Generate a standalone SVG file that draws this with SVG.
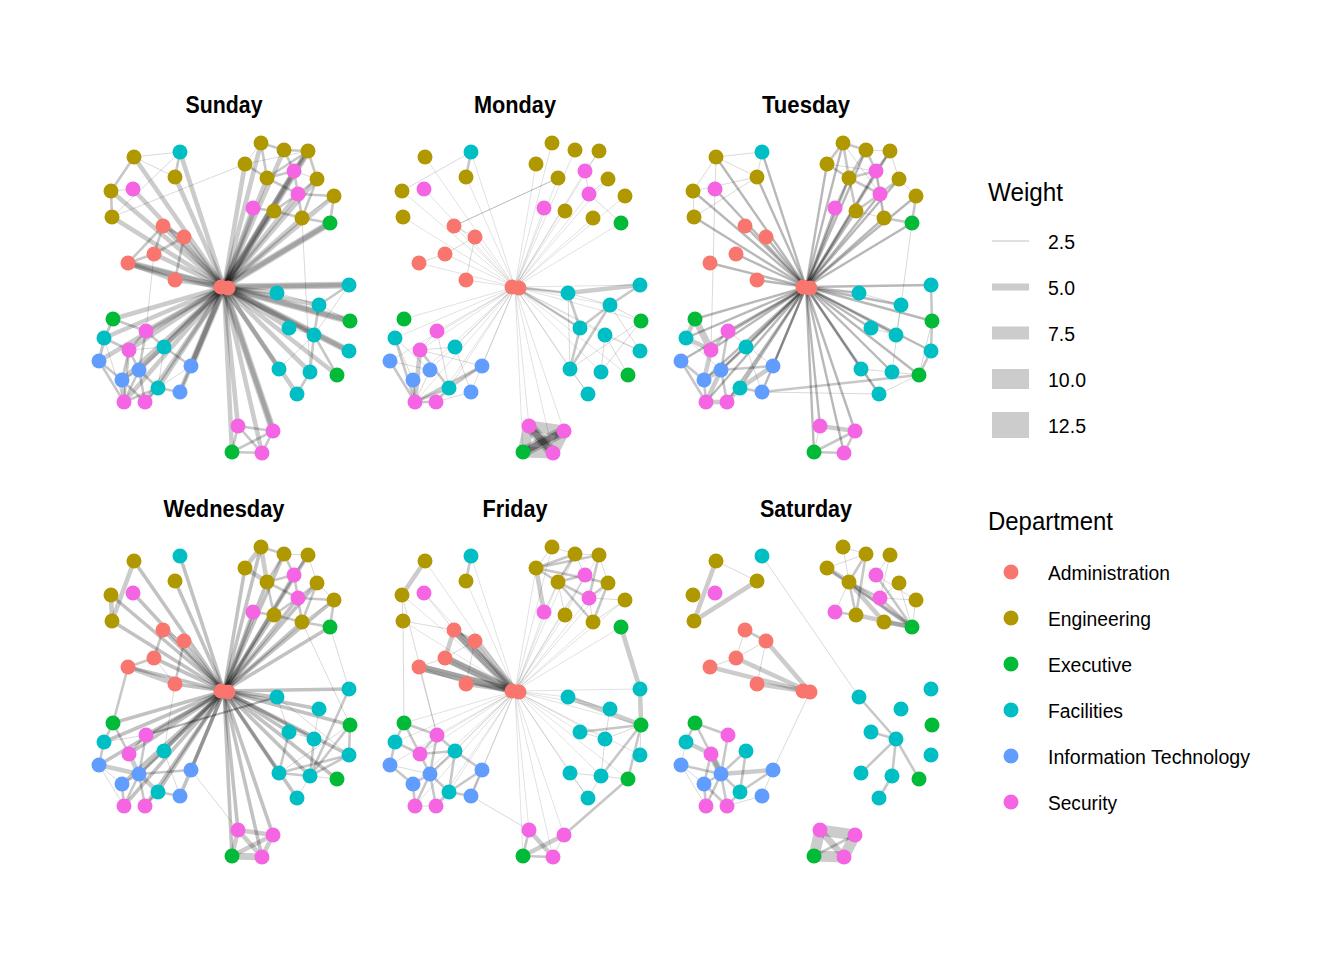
<svg xmlns="http://www.w3.org/2000/svg" xmlns:xlink="http://www.w3.org/1999/xlink" width="1344" height="960" viewBox="0 0 1344 960">
<style>
.e{fill:none;stroke:#000;stroke-linecap:butt}
.t path{stroke-width:.9;stroke-opacity:.17}
.m path{stroke-width:2.6;stroke-opacity:.22}
.d path{stroke-width:2.2;stroke-opacity:.3}
.k path{stroke-width:4.6;stroke-opacity:.2}
.h path{stroke-width:7;stroke-opacity:.2}
.w path{stroke-width:11;stroke-opacity:.2}
.a{fill:#F8766D}.g{fill:#B09900}.x{fill:#00BA38}.f{fill:#00BFC4}.i{fill:#619CFF}.s{fill:#F564E3}
.ttl{font-family:"Liberation Sans",Arial,sans-serif;font-weight:bold;font-size:23px;text-anchor:middle;fill:#000}
.lg{font-family:"Liberation Sans",Arial,sans-serif;font-size:20px;fill:#000}
.lt{font-family:"Liberation Sans",Arial,sans-serif;font-size:25px;fill:#000}
.key{fill:#cccccc}
</style>
<defs>
<g id="star"><path d="M515 287 425 157"/><path d="M515 287 471 152"/><path d="M515 287 466 177"/><path d="M515 287 424 189"/><path d="M515 287 402 191"/><path d="M515 287 403 217"/><path d="M515 287 454 226"/><path d="M515 287 475 237"/><path d="M515 287 445 254"/><path d="M515 287 419 263"/><path d="M515 287 466 280"/><path d="M515 287 552 143"/><path d="M515 287 575 150"/><path d="M515 287 599 151"/><path d="M515 287 536 164"/><path d="M515 287 558 178"/><path d="M515 287 608 179"/><path d="M515 287 625 196"/><path d="M515 287 565 211"/><path d="M515 287 593 218"/><path d="M515 287 585 171"/><path d="M515 287 589 194"/><path d="M515 287 544 208"/><path d="M515 287 621 223"/><path d="M515 287 568 293"/><path d="M515 287 640 285"/><path d="M515 287 610 305"/><path d="M515 287 580 328"/><path d="M515 287 605 335"/><path d="M515 287 640 351"/><path d="M515 287 570 369"/><path d="M515 287 601 372"/><path d="M515 287 588 394"/><path d="M515 287 641 321"/><path d="M515 287 628 375"/><path d="M515 287 529 426"/><path d="M515 287 564 431"/><path d="M515 287 553 453"/><path d="M515 287 523 452"/><path d="M515 287 404 319"/><path d="M515 287 395 338"/><path d="M515 287 437 331"/><path d="M515 287 455 347"/><path d="M515 287 420 350"/><path d="M515 287 390 361"/><path d="M515 287 430 370"/><path d="M515 287 482 366"/><path d="M515 287 413 380"/><path d="M515 287 449 388"/><path d="M515 287 471 392"/><path d="M515 287 415 402"/><path d="M515 287 436 402"/></g>
</defs>
<rect width="1344" height="960" fill="#fff"/>

<!-- SUNDAY -->
<g id="panel-sunday" transform="translate(-291,0)">
<text class="ttl" x="515" y="113" textLength="77" lengthAdjust="spacingAndGlyphs">Sunday</text>
<g id="sunday-connectors" class="e">
<use xlink:href="#star" href="#star" fill="none" stroke="#000" stroke-width="4.6" stroke-opacity="0.2"/>
<g class="h"><path d="M515 287 640 285"/><path d="M515 287 641 321"/><path d="M515 287 640 351"/><path d="M515 287 564 431"/><path d="M515 287 599 151"/><path d="M515 287 621 223"/><path d="M515 287 482 366"/><path d="M512 287 419 263"/></g>
<g class="k"><path d="M419 263 466 280"/><path d="M413 380 415 402"/></g>
<g class="m"><path d="M419 263 445 254"/><path d="M419 263 454 226"/><path d="M445 254 454 226"/><path d="M454 226 475 237"/><path d="M475 237 466 280"/><path d="M445 254 475 237"/><path d="M425 157 402 191"/><path d="M402 191 403 217"/><path d="M471 152 466 177"/>
<path d="M552 143 575 150"/><path d="M575 150 599 151"/><path d="M599 151 608 179"/><path d="M552 143 558 178"/><path d="M575 150 585 171"/><path d="M599 151 585 171"/><path d="M558 178 585 171"/><path d="M536 164 558 178"/><path d="M558 178 589 194"/><path d="M585 171 589 194"/><path d="M608 179 589 194"/><path d="M589 194 625 196"/><path d="M589 194 593 218"/><path d="M565 211 589 194"/><path d="M593 218 621 223"/><path d="M625 196 621 223"/><path d="M544 208 565 211"/><path d="M565 211 593 218"/><path d="M599 151 558 178"/><path d="M608 179 593 218"/>
<path d="M640 285 610 305"/><path d="M610 305 605 335"/><path d="M605 335 601 372"/><path d="M601 372 588 394"/><path d="M605 335 628 375"/>
<path d="M529 426 564 431"/><path d="M529 426 553 453"/><path d="M523 452 564 431"/><path d="M523 452 553 453"/><path d="M564 431 553 453"/><path d="M529 426 523 452"/>
<path d="M404 319 395 338"/><path d="M404 319 437 331"/><path d="M395 338 420 350"/><path d="M395 338 390 361"/><path d="M437 331 420 350"/><path d="M437 331 455 347"/><path d="M420 350 430 370"/><path d="M420 350 413 380"/><path d="M390 361 413 380"/><path d="M430 370 413 380"/><path d="M430 370 449 388"/><path d="M430 370 415 402"/><path d="M430 370 436 402"/><path d="M413 380 436 402"/><path d="M449 388 415 402"/><path d="M449 388 436 402"/><path d="M449 388 471 392"/><path d="M455 347 482 366"/><path d="M482 366 471 392"/><path d="M455 347 430 370"/><path d="M437 331 430 370"/><path d="M390 361 415 402"/><path d="M420 350 415 402"/></g>
<g class="t"><path d="M425 157 471 152"/><path d="M425 157 466 177"/><path d="M402 191 424 189"/><path d="M403 217 471 152"/><path d="M536 164 403 217"/><path d="M445 254 437 331"/><path d="M593 218 601 372"/><path d="M536 164 599 151"/><path d="M552 143 536 164"/><path d="M625 196 593 218"/><path d="M585 171 608 179"/><path d="M640 285 605 335"/><path d="M605 335 580 328"/><path d="M568 293 610 305"/><path d="M610 305 641 321"/><path d="M570 369 605 335"/><path d="M404 319 390 361"/><path d="M420 350 455 347"/><path d="M395 338 415 402"/><path d="M455 347 449 388"/><path d="M482 366 449 388"/></g>
</g>
<g id="sunday-nodes">
<g id="sun-A1"><circle class="a" cx="454" cy="226" r="7.5"/></g><g id="sun-A2"><circle class="a" cx="475" cy="237" r="7.5"/></g><g id="sun-A3"><circle class="a" cx="445" cy="254" r="7.5"/></g><g id="sun-A4"><circle class="a" cx="419" cy="263" r="7.5"/></g><g id="sun-A5"><circle class="a" cx="466" cy="280" r="7.5"/></g><g id="sun-A6"><circle class="a" cx="512" cy="287" r="7.5"/></g><g id="sun-A7"><circle class="a" cx="519" cy="288" r="7.5"/></g>
<g id="sun-E1"><circle class="g" cx="425" cy="157" r="7.5"/></g><g id="sun-E2"><circle class="g" cx="466" cy="177" r="7.5"/></g><g id="sun-E3"><circle class="g" cx="402" cy="191" r="7.5"/></g><g id="sun-E4"><circle class="g" cx="403" cy="217" r="7.5"/></g><g id="sun-E5"><circle class="g" cx="552" cy="143" r="7.5"/></g><g id="sun-E6"><circle class="g" cx="575" cy="150" r="7.5"/></g><g id="sun-E7"><circle class="g" cx="599" cy="151" r="7.5"/></g><g id="sun-E8"><circle class="g" cx="536" cy="164" r="7.5"/></g><g id="sun-E9"><circle class="g" cx="558" cy="178" r="7.5"/></g><g id="sun-E10"><circle class="g" cx="608" cy="179" r="7.5"/></g><g id="sun-E11"><circle class="g" cx="625" cy="196" r="7.5"/></g><g id="sun-E12"><circle class="g" cx="565" cy="211" r="7.5"/></g><g id="sun-E13"><circle class="g" cx="593" cy="218" r="7.5"/></g>
<g id="sun-X1"><circle class="x" cx="621" cy="223" r="7.5"/></g><g id="sun-X2"><circle class="x" cx="641" cy="321" r="7.5"/></g><g id="sun-X3"><circle class="x" cx="628" cy="375" r="7.5"/></g><g id="sun-X4"><circle class="x" cx="523" cy="452" r="7.5"/></g><g id="sun-X5"><circle class="x" cx="404" cy="319" r="7.5"/></g>
<g id="sun-F1"><circle class="f" cx="471" cy="152" r="7.5"/></g><g id="sun-F2"><circle class="f" cx="568" cy="293" r="7.5"/></g><g id="sun-F3"><circle class="f" cx="640" cy="285" r="7.5"/></g><g id="sun-F4"><circle class="f" cx="610" cy="305" r="7.5"/></g><g id="sun-F5"><circle class="f" cx="580" cy="328" r="7.5"/></g><g id="sun-F6"><circle class="f" cx="605" cy="335" r="7.5"/></g><g id="sun-F7"><circle class="f" cx="640" cy="351" r="7.5"/></g><g id="sun-F8"><circle class="f" cx="570" cy="369" r="7.5"/></g><g id="sun-F9"><circle class="f" cx="601" cy="372" r="7.5"/></g><g id="sun-F10"><circle class="f" cx="588" cy="394" r="7.5"/></g><g id="sun-F11"><circle class="f" cx="395" cy="338" r="7.5"/></g><g id="sun-F12"><circle class="f" cx="455" cy="347" r="7.5"/></g><g id="sun-F13"><circle class="f" cx="449" cy="388" r="7.5"/></g>
<g id="sun-I1"><circle class="i" cx="390" cy="361" r="7.5"/></g><g id="sun-I2"><circle class="i" cx="430" cy="370" r="7.5"/></g><g id="sun-I3"><circle class="i" cx="482" cy="366" r="7.5"/></g><g id="sun-I4"><circle class="i" cx="413" cy="380" r="7.5"/></g><g id="sun-I5"><circle class="i" cx="471" cy="392" r="7.5"/></g>
<g id="sun-S1"><circle class="s" cx="424" cy="189" r="7.5"/></g><g id="sun-S2"><circle class="s" cx="585" cy="171" r="7.5"/></g><g id="sun-S3"><circle class="s" cx="589" cy="194" r="7.5"/></g><g id="sun-S4"><circle class="s" cx="544" cy="208" r="7.5"/></g><g id="sun-S5"><circle class="s" cx="529" cy="426" r="7.5"/></g><g id="sun-S6"><circle class="s" cx="564" cy="431" r="7.5"/></g><g id="sun-S7"><circle class="s" cx="553" cy="453" r="7.5"/></g><g id="sun-S8"><circle class="s" cx="437" cy="331" r="7.5"/></g><g id="sun-S9"><circle class="s" cx="420" cy="350" r="7.5"/></g><g id="sun-S10"><circle class="s" cx="415" cy="402" r="7.5"/></g><g id="sun-S11"><circle class="s" cx="436" cy="402" r="7.5"/></g>
</g>
</g>

<!-- MONDAY -->
<g id="panel-monday">
<text class="ttl" x="515" y="113" textLength="82" lengthAdjust="spacingAndGlyphs">Monday</text>
<g id="monday-connectors" class="e">
<use xlink:href="#star" href="#star" fill="none" stroke="#000" stroke-width="0.8" stroke-opacity="0.15"/>
<g class="w"><path d="M529 426 564 431"/><path d="M529 426 523 452"/><path d="M529 426 553 453"/><path d="M564 431 523 452"/><path d="M564 431 553 453"/><path d="M523 452 553 453"/></g>
<g class="h"><path d="M529 426 553 453"/><path d="M564 431 523 452"/><path d="M529 426 553 453"/><path d="M564 431 523 452"/></g>
<g class="k"><path d="M568 293 640 285"/><path d="M420 350 415 402"/></g>
<g class="m"><path d="M515 287 568 293"/><path d="M515 287 580 328"/><path d="M471 152 466 177"/><path d="M640 285 610 305"/><path d="M610 305 580 328"/><path d="M580 328 570 369"/><path d="M610 305 570 369"/><path d="M568 293 580 328"/><path d="M395 338 415 402"/><path d="M390 361 415 402"/><path d="M482 366 415 402"/><path d="M482 366 449 388"/><path d="M420 350 449 388"/><path d="M413 380 415 402"/><path d="M449 388 415 402"/><path d="M449 388 436 402"/><path d="M415 402 436 402"/></g>
<g class="t"><path d="M402 191 471 152"/><path d="M454 226 475 237"/><path d="M475 237 445 254"/><path d="M445 254 419 263"/><path d="M475 237 466 280"/><path d="M454 226 558 178"/><path d="M454 226 558 178"/><path d="M585 171 589 194"/><path d="M589 194 621 223"/><path d="M599 151 585 171"/><path d="M608 179 589 194"/><path d="M568 293 570 369"/><path d="M568 293 610 305"/><path d="M610 305 640 351"/><path d="M605 335 640 351"/><path d="M605 335 601 372"/><path d="M641 321 601 372"/><path d="M570 369 588 394"/><path d="M570 369 641 321"/><path d="M628 375 605 335"/><path d="M610 305 641 321"/><path d="M390 361 430 370"/><path d="M395 338 430 370"/><path d="M420 350 482 366"/><path d="M437 331 449 388"/><path d="M430 370 415 402"/><path d="M436 402 471 392"/><path d="M455 347 471 392"/><path d="M395 338 413 380"/><path d="M420 350 455 347"/><path d="M437 331 420 350"/></g>
</g>
<g id="monday-nodes">
<g id="mon-A1"><circle class="a" cx="454" cy="226" r="7.5"/></g><g id="mon-A2"><circle class="a" cx="475" cy="237" r="7.5"/></g><g id="mon-A3"><circle class="a" cx="445" cy="254" r="7.5"/></g><g id="mon-A4"><circle class="a" cx="419" cy="263" r="7.5"/></g><g id="mon-A5"><circle class="a" cx="466" cy="280" r="7.5"/></g><g id="mon-A6"><circle class="a" cx="512" cy="287" r="7.5"/></g><g id="mon-A7"><circle class="a" cx="519" cy="288" r="7.5"/></g>
<g id="mon-E1"><circle class="g" cx="425" cy="157" r="7.5"/></g><g id="mon-E2"><circle class="g" cx="466" cy="177" r="7.5"/></g><g id="mon-E3"><circle class="g" cx="402" cy="191" r="7.5"/></g><g id="mon-E4"><circle class="g" cx="403" cy="217" r="7.5"/></g><g id="mon-E5"><circle class="g" cx="552" cy="143" r="7.5"/></g><g id="mon-E6"><circle class="g" cx="575" cy="150" r="7.5"/></g><g id="mon-E7"><circle class="g" cx="599" cy="151" r="7.5"/></g><g id="mon-E8"><circle class="g" cx="536" cy="164" r="7.5"/></g><g id="mon-E9"><circle class="g" cx="558" cy="178" r="7.5"/></g><g id="mon-E10"><circle class="g" cx="608" cy="179" r="7.5"/></g><g id="mon-E11"><circle class="g" cx="625" cy="196" r="7.5"/></g><g id="mon-E12"><circle class="g" cx="565" cy="211" r="7.5"/></g><g id="mon-E13"><circle class="g" cx="593" cy="218" r="7.5"/></g>
<g id="mon-X1"><circle class="x" cx="621" cy="223" r="7.5"/></g><g id="mon-X2"><circle class="x" cx="641" cy="321" r="7.5"/></g><g id="mon-X3"><circle class="x" cx="628" cy="375" r="7.5"/></g><g id="mon-X4"><circle class="x" cx="523" cy="452" r="7.5"/></g><g id="mon-X5"><circle class="x" cx="404" cy="319" r="7.5"/></g>
<g id="mon-F1"><circle class="f" cx="471" cy="152" r="7.5"/></g><g id="mon-F2"><circle class="f" cx="568" cy="293" r="7.5"/></g><g id="mon-F3"><circle class="f" cx="640" cy="285" r="7.5"/></g><g id="mon-F4"><circle class="f" cx="610" cy="305" r="7.5"/></g><g id="mon-F5"><circle class="f" cx="580" cy="328" r="7.5"/></g><g id="mon-F6"><circle class="f" cx="605" cy="335" r="7.5"/></g><g id="mon-F7"><circle class="f" cx="640" cy="351" r="7.5"/></g><g id="mon-F8"><circle class="f" cx="570" cy="369" r="7.5"/></g><g id="mon-F9"><circle class="f" cx="601" cy="372" r="7.5"/></g><g id="mon-F10"><circle class="f" cx="588" cy="394" r="7.5"/></g><g id="mon-F11"><circle class="f" cx="395" cy="338" r="7.5"/></g><g id="mon-F12"><circle class="f" cx="455" cy="347" r="7.5"/></g><g id="mon-F13"><circle class="f" cx="449" cy="388" r="7.5"/></g>
<g id="mon-I1"><circle class="i" cx="390" cy="361" r="7.5"/></g><g id="mon-I2"><circle class="i" cx="430" cy="370" r="7.5"/></g><g id="mon-I3"><circle class="i" cx="482" cy="366" r="7.5"/></g><g id="mon-I4"><circle class="i" cx="413" cy="380" r="7.5"/></g><g id="mon-I5"><circle class="i" cx="471" cy="392" r="7.5"/></g>
<g id="mon-S1"><circle class="s" cx="424" cy="189" r="7.5"/></g><g id="mon-S2"><circle class="s" cx="585" cy="171" r="7.5"/></g><g id="mon-S3"><circle class="s" cx="589" cy="194" r="7.5"/></g><g id="mon-S4"><circle class="s" cx="544" cy="208" r="7.5"/></g><g id="mon-S5"><circle class="s" cx="529" cy="426" r="7.5"/></g><g id="mon-S6"><circle class="s" cx="564" cy="431" r="7.5"/></g><g id="mon-S7"><circle class="s" cx="553" cy="453" r="7.5"/></g><g id="mon-S8"><circle class="s" cx="437" cy="331" r="7.5"/></g><g id="mon-S9"><circle class="s" cx="420" cy="350" r="7.5"/></g><g id="mon-S10"><circle class="s" cx="415" cy="402" r="7.5"/></g><g id="mon-S11"><circle class="s" cx="436" cy="402" r="7.5"/></g>
</g>
</g>

<!-- TUESDAY -->
<g id="panel-tuesday" transform="translate(291,0)">
<text class="ttl" x="515" y="113" textLength="88" lengthAdjust="spacingAndGlyphs">Tuesday</text>
<g id="tuesday-connectors" class="e">
<use xlink:href="#star" href="#star" fill="none" stroke="#000" stroke-width="2.4" stroke-opacity="0.28"/>
<g class="h"><path d="M404 319 420 350"/></g>
<g class="k"><path d="M395 338 420 350"/><path d="M420 350 413 380"/><path d="M430 370 413 380"/><path d="M430 370 415 402"/><path d="M415 402 436 402"/><path d="M436 402 449 388"/><path d="M482 366 449 388"/><path d="M404 319 395 338"/><path d="M529 426 564 431"/></g>
<g class="m"><path d="M640 285 641 321"/><path d="M641 321 640 351"/><path d="M640 351 628 375"/><path d="M471 392 628 375"/><path d="M523 452 564 431"/><path d="M523 452 553 453"/><path d="M564 431 553 453"/>
<path d="M552 143 575 150"/><path d="M552 143 536 164"/><path d="M552 143 558 178"/><path d="M575 150 558 178"/><path d="M575 150 585 171"/><path d="M599 151 585 171"/><path d="M536 164 558 178"/><path d="M558 178 585 171"/><path d="M558 178 589 194"/><path d="M585 171 589 194"/><path d="M558 178 565 211"/><path d="M589 194 565 211"/><path d="M589 194 608 179"/><path d="M589 194 593 218"/><path d="M625 196 621 223"/><path d="M593 218 621 223"/><path d="M544 208 558 178"/>
<path d="M390 361 413 380"/><path d="M449 388 471 392"/><path d="M482 366 430 370"/><path d="M455 347 430 370"/><path d="M437 331 430 370"/><path d="M436 402 430 370"/><path d="M413 380 415 402"/><path d="M390 361 415 402"/><path d="M437 331 420 350"/></g>
<g class="t"><path d="M425 157 471 152"/><path d="M425 157 402 191"/><path d="M425 157 466 177"/><path d="M425 157 424 189"/><path d="M402 191 403 217"/><path d="M471 152 466 177"/><path d="M424 189 420 350"/><path d="M402 191 466 177"/><path d="M403 217 466 177"/>
<path d="M575 150 599 151"/><path d="M565 211 593 218"/><path d="M599 151 608 179"/><path d="M585 171 593 218"/><path d="M608 179 625 196"/><path d="M536 164 585 171"/><path d="M552 143 589 194"/>
<path d="M641 321 628 375"/><path d="M570 369 601 372"/><path d="M601 372 628 375"/><path d="M588 394 628 375"/><path d="M588 394 471 392"/><path d="M621 223 601 372"/><path d="M568 293 610 305"/><path d="M610 305 605 335"/><path d="M580 328 605 335"/><path d="M570 369 588 394"/><path d="M529 426 523 452"/><path d="M395 338 430 370"/><path d="M455 347 471 392"/><path d="M437 331 482 366"/></g>
</g>
<g id="tuesday-nodes">
<g id="tue-A1"><circle class="a" cx="454" cy="226" r="7.5"/></g><g id="tue-A2"><circle class="a" cx="475" cy="237" r="7.5"/></g><g id="tue-A3"><circle class="a" cx="445" cy="254" r="7.5"/></g><g id="tue-A4"><circle class="a" cx="419" cy="263" r="7.5"/></g><g id="tue-A5"><circle class="a" cx="466" cy="280" r="7.5"/></g><g id="tue-A6"><circle class="a" cx="512" cy="287" r="7.5"/></g><g id="tue-A7"><circle class="a" cx="519" cy="288" r="7.5"/></g>
<g id="tue-E1"><circle class="g" cx="425" cy="157" r="7.5"/></g><g id="tue-E2"><circle class="g" cx="466" cy="177" r="7.5"/></g><g id="tue-E3"><circle class="g" cx="402" cy="191" r="7.5"/></g><g id="tue-E4"><circle class="g" cx="403" cy="217" r="7.5"/></g><g id="tue-E5"><circle class="g" cx="552" cy="143" r="7.5"/></g><g id="tue-E6"><circle class="g" cx="575" cy="150" r="7.5"/></g><g id="tue-E7"><circle class="g" cx="599" cy="151" r="7.5"/></g><g id="tue-E8"><circle class="g" cx="536" cy="164" r="7.5"/></g><g id="tue-E9"><circle class="g" cx="558" cy="178" r="7.5"/></g><g id="tue-E10"><circle class="g" cx="608" cy="179" r="7.5"/></g><g id="tue-E11"><circle class="g" cx="625" cy="196" r="7.5"/></g><g id="tue-E12"><circle class="g" cx="565" cy="211" r="7.5"/></g><g id="tue-E13"><circle class="g" cx="593" cy="218" r="7.5"/></g>
<g id="tue-X1"><circle class="x" cx="621" cy="223" r="7.5"/></g><g id="tue-X2"><circle class="x" cx="641" cy="321" r="7.5"/></g><g id="tue-X3"><circle class="x" cx="628" cy="375" r="7.5"/></g><g id="tue-X4"><circle class="x" cx="523" cy="452" r="7.5"/></g><g id="tue-X5"><circle class="x" cx="404" cy="319" r="7.5"/></g>
<g id="tue-F1"><circle class="f" cx="471" cy="152" r="7.5"/></g><g id="tue-F2"><circle class="f" cx="568" cy="293" r="7.5"/></g><g id="tue-F3"><circle class="f" cx="640" cy="285" r="7.5"/></g><g id="tue-F4"><circle class="f" cx="610" cy="305" r="7.5"/></g><g id="tue-F5"><circle class="f" cx="580" cy="328" r="7.5"/></g><g id="tue-F6"><circle class="f" cx="605" cy="335" r="7.5"/></g><g id="tue-F7"><circle class="f" cx="640" cy="351" r="7.5"/></g><g id="tue-F8"><circle class="f" cx="570" cy="369" r="7.5"/></g><g id="tue-F9"><circle class="f" cx="601" cy="372" r="7.5"/></g><g id="tue-F10"><circle class="f" cx="588" cy="394" r="7.5"/></g><g id="tue-F11"><circle class="f" cx="395" cy="338" r="7.5"/></g><g id="tue-F12"><circle class="f" cx="455" cy="347" r="7.5"/></g><g id="tue-F13"><circle class="f" cx="449" cy="388" r="7.5"/></g>
<g id="tue-I1"><circle class="i" cx="390" cy="361" r="7.5"/></g><g id="tue-I2"><circle class="i" cx="430" cy="370" r="7.5"/></g><g id="tue-I3"><circle class="i" cx="482" cy="366" r="7.5"/></g><g id="tue-I4"><circle class="i" cx="413" cy="380" r="7.5"/></g><g id="tue-I5"><circle class="i" cx="471" cy="392" r="7.5"/></g>
<g id="tue-S1"><circle class="s" cx="424" cy="189" r="7.5"/></g><g id="tue-S2"><circle class="s" cx="585" cy="171" r="7.5"/></g><g id="tue-S3"><circle class="s" cx="589" cy="194" r="7.5"/></g><g id="tue-S4"><circle class="s" cx="544" cy="208" r="7.5"/></g><g id="tue-S5"><circle class="s" cx="529" cy="426" r="7.5"/></g><g id="tue-S6"><circle class="s" cx="564" cy="431" r="7.5"/></g><g id="tue-S7"><circle class="s" cx="553" cy="453" r="7.5"/></g><g id="tue-S8"><circle class="s" cx="437" cy="331" r="7.5"/></g><g id="tue-S9"><circle class="s" cx="420" cy="350" r="7.5"/></g><g id="tue-S10"><circle class="s" cx="415" cy="402" r="7.5"/></g><g id="tue-S11"><circle class="s" cx="436" cy="402" r="7.5"/></g>
</g>
</g>

<!-- WEDNESDAY -->
<g id="panel-wednesday" transform="translate(-291,404)">
<text class="ttl" x="515" y="113" textLength="121" lengthAdjust="spacingAndGlyphs">Wednesday</text>
<g id="wednesday-connectors" class="e">
<use xlink:href="#star" href="#star" fill="none" stroke="#000" stroke-width="3.6" stroke-opacity="0.24"/>
<g class="h"><path d="M523 452 553 453"/></g>
<g class="k"><path d="M425 157 403 217"/><path d="M402 191 403 217"/><path d="M419 263 466 280"/><path d="M552 143 536 164"/><path d="M536 164 558 178"/><path d="M552 143 558 178"/><path d="M529 426 564 431"/><path d="M529 426 553 453"/><path d="M529 426 523 452"/><path d="M564 431 553 453"/><path d="M523 452 564 431"/><path d="M390 361 430 370"/><path d="M420 350 430 370"/><path d="M430 370 449 388"/></g>
<g class="d"><path d="M568 293 437 331"/></g>
<g class="m"><path d="M419 263 404 319"/><path d="M454 226 445 254"/><path d="M445 254 419 263"/><path d="M475 237 466 280"/>
<path d="M552 143 575 150"/><path d="M575 150 558 178"/><path d="M575 150 585 171"/><path d="M599 151 585 171"/><path d="M558 178 585 171"/><path d="M558 178 589 194"/><path d="M585 171 589 194"/><path d="M589 194 608 179"/><path d="M589 194 625 196"/><path d="M589 194 593 218"/><path d="M565 211 589 194"/><path d="M558 178 565 211"/><path d="M565 211 593 218"/><path d="M593 218 621 223"/><path d="M625 196 621 223"/><path d="M544 208 565 211"/><path d="M608 179 593 218"/>
<path d="M640 285 601 372"/><path d="M641 321 601 372"/><path d="M640 351 601 372"/><path d="M640 351 570 369"/><path d="M580 328 570 369"/><path d="M605 335 601 372"/><path d="M641 321 640 351"/><path d="M570 369 601 372"/>
<path d="M404 319 395 338"/><path d="M404 319 420 350"/><path d="M395 338 390 361"/><path d="M437 331 420 350"/><path d="M437 331 430 370"/><path d="M455 347 430 370"/><path d="M430 370 413 380"/><path d="M430 370 415 402"/><path d="M430 370 436 402"/><path d="M449 388 436 402"/><path d="M471 392 449 388"/><path d="M482 366 430 370"/><path d="M413 380 415 402"/></g>
<g class="t"><path d="M454 226 475 237"/><path d="M445 254 466 280"/><path d="M466 280 455 347"/><path d="M482 366 529 426"/><path d="M621 223 640 285"/><path d="M593 218 641 321"/><path d="M599 151 608 179"/><path d="M575 150 599 151"/><path d="M608 179 625 196"/><path d="M625 196 593 218"/><path d="M641 321 570 369"/><path d="M580 328 605 335"/><path d="M601 372 588 394"/><path d="M628 375 601 372"/><path d="M568 293 580 328"/><path d="M568 293 640 351"/><path d="M610 305 605 335"/><path d="M395 338 437 331"/><path d="M390 361 413 380"/><path d="M455 347 471 392"/><path d="M390 361 415 402"/></g>
</g>
<g id="wednesday-nodes">
<g id="wed-A1"><circle class="a" cx="454" cy="226" r="7.5"/></g><g id="wed-A2"><circle class="a" cx="475" cy="237" r="7.5"/></g><g id="wed-A3"><circle class="a" cx="445" cy="254" r="7.5"/></g><g id="wed-A4"><circle class="a" cx="419" cy="263" r="7.5"/></g><g id="wed-A5"><circle class="a" cx="466" cy="280" r="7.5"/></g><g id="wed-A6"><circle class="a" cx="512" cy="287" r="7.5"/></g><g id="wed-A7"><circle class="a" cx="519" cy="288" r="7.5"/></g>
<g id="wed-E1"><circle class="g" cx="425" cy="157" r="7.5"/></g><g id="wed-E2"><circle class="g" cx="466" cy="177" r="7.5"/></g><g id="wed-E3"><circle class="g" cx="402" cy="191" r="7.5"/></g><g id="wed-E4"><circle class="g" cx="403" cy="217" r="7.5"/></g><g id="wed-E5"><circle class="g" cx="552" cy="143" r="7.5"/></g><g id="wed-E6"><circle class="g" cx="575" cy="150" r="7.5"/></g><g id="wed-E7"><circle class="g" cx="599" cy="151" r="7.5"/></g><g id="wed-E8"><circle class="g" cx="536" cy="164" r="7.5"/></g><g id="wed-E9"><circle class="g" cx="558" cy="178" r="7.5"/></g><g id="wed-E10"><circle class="g" cx="608" cy="179" r="7.5"/></g><g id="wed-E11"><circle class="g" cx="625" cy="196" r="7.5"/></g><g id="wed-E12"><circle class="g" cx="565" cy="211" r="7.5"/></g><g id="wed-E13"><circle class="g" cx="593" cy="218" r="7.5"/></g>
<g id="wed-X1"><circle class="x" cx="621" cy="223" r="7.5"/></g><g id="wed-X2"><circle class="x" cx="641" cy="321" r="7.5"/></g><g id="wed-X3"><circle class="x" cx="628" cy="375" r="7.5"/></g><g id="wed-X4"><circle class="x" cx="523" cy="452" r="7.5"/></g><g id="wed-X5"><circle class="x" cx="404" cy="319" r="7.5"/></g>
<g id="wed-F1"><circle class="f" cx="471" cy="152" r="7.5"/></g><g id="wed-F2"><circle class="f" cx="568" cy="293" r="7.5"/></g><g id="wed-F3"><circle class="f" cx="640" cy="285" r="7.5"/></g><g id="wed-F4"><circle class="f" cx="610" cy="305" r="7.5"/></g><g id="wed-F5"><circle class="f" cx="580" cy="328" r="7.5"/></g><g id="wed-F6"><circle class="f" cx="605" cy="335" r="7.5"/></g><g id="wed-F7"><circle class="f" cx="640" cy="351" r="7.5"/></g><g id="wed-F8"><circle class="f" cx="570" cy="369" r="7.5"/></g><g id="wed-F9"><circle class="f" cx="601" cy="372" r="7.5"/></g><g id="wed-F10"><circle class="f" cx="588" cy="394" r="7.5"/></g><g id="wed-F11"><circle class="f" cx="395" cy="338" r="7.5"/></g><g id="wed-F12"><circle class="f" cx="455" cy="347" r="7.5"/></g><g id="wed-F13"><circle class="f" cx="449" cy="388" r="7.5"/></g>
<g id="wed-I1"><circle class="i" cx="390" cy="361" r="7.5"/></g><g id="wed-I2"><circle class="i" cx="430" cy="370" r="7.5"/></g><g id="wed-I3"><circle class="i" cx="482" cy="366" r="7.5"/></g><g id="wed-I4"><circle class="i" cx="413" cy="380" r="7.5"/></g><g id="wed-I5"><circle class="i" cx="471" cy="392" r="7.5"/></g>
<g id="wed-S1"><circle class="s" cx="424" cy="189" r="7.5"/></g><g id="wed-S2"><circle class="s" cx="585" cy="171" r="7.5"/></g><g id="wed-S3"><circle class="s" cx="589" cy="194" r="7.5"/></g><g id="wed-S4"><circle class="s" cx="544" cy="208" r="7.5"/></g><g id="wed-S5"><circle class="s" cx="529" cy="426" r="7.5"/></g><g id="wed-S6"><circle class="s" cx="564" cy="431" r="7.5"/></g><g id="wed-S7"><circle class="s" cx="553" cy="453" r="7.5"/></g><g id="wed-S8"><circle class="s" cx="437" cy="331" r="7.5"/></g><g id="wed-S9"><circle class="s" cx="420" cy="350" r="7.5"/></g><g id="wed-S10"><circle class="s" cx="415" cy="402" r="7.5"/></g><g id="wed-S11"><circle class="s" cx="436" cy="402" r="7.5"/></g>
</g>
</g>

<!-- FRIDAY -->
<g id="panel-friday" transform="translate(0,404)">
<text class="ttl" x="515" y="113" textLength="65" lengthAdjust="spacingAndGlyphs">Friday</text>
<g id="friday-connectors" class="e">
<use xlink:href="#star" href="#star" fill="none" stroke="#000" stroke-width="0.8" stroke-opacity="0.15"/>
<g class="h"><path d="M515 287 454 226"/><path d="M515 287 475 237"/><path d="M515 287 445 254"/><path d="M515 287 419 263"/><path d="M512 287 454 226"/><path d="M512 287 445 254"/><path d="M512 287 419 263"/></g>
<g class="k"><path d="M515 287 466 280"/><path d="M425 157 402 191"/><path d="M454 226 445 254"/><path d="M536 164 544 208"/><path d="M621 223 640 285"/><path d="M640 285 641 321"/><path d="M568 293 641 321"/><path d="M529 426 553 453"/><path d="M523 452 564 431"/></g>
<g class="m"><path d="M471 152 466 177"/><path d="M454 226 475 237"/>
<path d="M536 164 575 150"/><path d="M536 164 599 151"/><path d="M536 164 558 178"/><path d="M536 164 608 179"/><path d="M558 178 585 171"/><path d="M558 178 589 194"/><path d="M608 179 589 194"/><path d="M608 179 593 218"/><path d="M599 151 589 194"/><path d="M558 178 593 218"/><path d="M575 150 558 178"/>
<path d="M580 328 641 321"/><path d="M641 321 628 375"/><path d="M641 321 601 372"/><path d="M628 375 564 431"/><path d="M529 426 523 452"/><path d="M523 452 553 453"/>
<path d="M404 319 395 338"/><path d="M404 319 437 331"/><path d="M404 319 420 350"/><path d="M395 338 420 350"/><path d="M395 338 390 361"/><path d="M437 331 420 350"/><path d="M437 331 455 347"/><path d="M420 350 430 370"/><path d="M420 350 455 347"/><path d="M390 361 413 380"/><path d="M430 370 413 380"/><path d="M430 370 449 388"/><path d="M430 370 415 402"/><path d="M430 370 436 402"/><path d="M413 380 415 402"/><path d="M449 388 436 402"/><path d="M449 388 471 392"/><path d="M455 347 482 366"/><path d="M482 366 471 392"/><path d="M455 347 430 370"/><path d="M437 331 430 370"/><path d="M482 366 449 388"/><path d="M455 347 449 388"/></g>
<g class="t"><path d="M402 191 403 217"/><path d="M403 217 404 319"/><path d="M402 191 437 331"/><path d="M403 217 454 226"/><path d="M424 189 454 226"/><path d="M445 254 419 263"/><path d="M419 263 466 280"/><path d="M475 237 466 280"/><path d="M445 254 475 237"/><path d="M419 263 437 331"/>
<path d="M625 196 589 194"/><path d="M575 150 585 171"/><path d="M565 211 585 171"/><path d="M593 218 589 194"/><path d="M558 178 565 211"/><path d="M544 208 558 178"/><path d="M552 143 575 150"/><path d="M552 143 536 164"/><path d="M599 151 608 179"/><path d="M625 196 593 218"/><path d="M575 150 599 151"/>
<path d="M605 335 641 321"/><path d="M570 369 588 394"/><path d="M601 372 588 394"/><path d="M601 372 628 375"/><path d="M580 328 605 335"/><path d="M610 305 605 335"/><path d="M640 351 641 321"/><path d="M568 293 610 305"/><path d="M605 335 601 372"/><path d="M570 369 601 372"/><path d="M564 431 553 453"/><path d="M529 426 471 392"/><path d="M390 361 430 370"/><path d="M415 402 436 402"/></g>
</g>
<g id="friday-nodes">
<g id="fri-A1"><circle class="a" cx="454" cy="226" r="7.5"/></g><g id="fri-A2"><circle class="a" cx="475" cy="237" r="7.5"/></g><g id="fri-A3"><circle class="a" cx="445" cy="254" r="7.5"/></g><g id="fri-A4"><circle class="a" cx="419" cy="263" r="7.5"/></g><g id="fri-A5"><circle class="a" cx="466" cy="280" r="7.5"/></g><g id="fri-A6"><circle class="a" cx="512" cy="287" r="7.5"/></g><g id="fri-A7"><circle class="a" cx="519" cy="288" r="7.5"/></g>
<g id="fri-E1"><circle class="g" cx="425" cy="157" r="7.5"/></g><g id="fri-E2"><circle class="g" cx="466" cy="177" r="7.5"/></g><g id="fri-E3"><circle class="g" cx="402" cy="191" r="7.5"/></g><g id="fri-E4"><circle class="g" cx="403" cy="217" r="7.5"/></g><g id="fri-E5"><circle class="g" cx="552" cy="143" r="7.5"/></g><g id="fri-E6"><circle class="g" cx="575" cy="150" r="7.5"/></g><g id="fri-E7"><circle class="g" cx="599" cy="151" r="7.5"/></g><g id="fri-E8"><circle class="g" cx="536" cy="164" r="7.5"/></g><g id="fri-E9"><circle class="g" cx="558" cy="178" r="7.5"/></g><g id="fri-E10"><circle class="g" cx="608" cy="179" r="7.5"/></g><g id="fri-E11"><circle class="g" cx="625" cy="196" r="7.5"/></g><g id="fri-E12"><circle class="g" cx="565" cy="211" r="7.5"/></g><g id="fri-E13"><circle class="g" cx="593" cy="218" r="7.5"/></g>
<g id="fri-X1"><circle class="x" cx="621" cy="223" r="7.5"/></g><g id="fri-X2"><circle class="x" cx="641" cy="321" r="7.5"/></g><g id="fri-X3"><circle class="x" cx="628" cy="375" r="7.5"/></g><g id="fri-X4"><circle class="x" cx="523" cy="452" r="7.5"/></g><g id="fri-X5"><circle class="x" cx="404" cy="319" r="7.5"/></g>
<g id="fri-F1"><circle class="f" cx="471" cy="152" r="7.5"/></g><g id="fri-F2"><circle class="f" cx="568" cy="293" r="7.5"/></g><g id="fri-F3"><circle class="f" cx="640" cy="285" r="7.5"/></g><g id="fri-F4"><circle class="f" cx="610" cy="305" r="7.5"/></g><g id="fri-F5"><circle class="f" cx="580" cy="328" r="7.5"/></g><g id="fri-F6"><circle class="f" cx="605" cy="335" r="7.5"/></g><g id="fri-F7"><circle class="f" cx="640" cy="351" r="7.5"/></g><g id="fri-F8"><circle class="f" cx="570" cy="369" r="7.5"/></g><g id="fri-F9"><circle class="f" cx="601" cy="372" r="7.5"/></g><g id="fri-F10"><circle class="f" cx="588" cy="394" r="7.5"/></g><g id="fri-F11"><circle class="f" cx="395" cy="338" r="7.5"/></g><g id="fri-F12"><circle class="f" cx="455" cy="347" r="7.5"/></g><g id="fri-F13"><circle class="f" cx="449" cy="388" r="7.5"/></g>
<g id="fri-I1"><circle class="i" cx="390" cy="361" r="7.5"/></g><g id="fri-I2"><circle class="i" cx="430" cy="370" r="7.5"/></g><g id="fri-I3"><circle class="i" cx="482" cy="366" r="7.5"/></g><g id="fri-I4"><circle class="i" cx="413" cy="380" r="7.5"/></g><g id="fri-I5"><circle class="i" cx="471" cy="392" r="7.5"/></g>
<g id="fri-S1"><circle class="s" cx="424" cy="189" r="7.5"/></g><g id="fri-S2"><circle class="s" cx="585" cy="171" r="7.5"/></g><g id="fri-S3"><circle class="s" cx="589" cy="194" r="7.5"/></g><g id="fri-S4"><circle class="s" cx="544" cy="208" r="7.5"/></g><g id="fri-S5"><circle class="s" cx="529" cy="426" r="7.5"/></g><g id="fri-S6"><circle class="s" cx="564" cy="431" r="7.5"/></g><g id="fri-S7"><circle class="s" cx="553" cy="453" r="7.5"/></g><g id="fri-S8"><circle class="s" cx="437" cy="331" r="7.5"/></g><g id="fri-S9"><circle class="s" cx="420" cy="350" r="7.5"/></g><g id="fri-S10"><circle class="s" cx="415" cy="402" r="7.5"/></g><g id="fri-S11"><circle class="s" cx="436" cy="402" r="7.5"/></g>
</g>
</g>

<!-- SATURDAY -->
<g id="panel-saturday" transform="translate(291,404)">
<text class="ttl" x="515" y="113" textLength="92" lengthAdjust="spacingAndGlyphs">Saturday</text>
<g id="saturday-connectors" class="e">
<g class="w"><path d="M529 426 523 452"/><path d="M564 431 553 453"/><path d="M529 426 564 431"/><path d="M523 452 553 453"/></g>
<g class="h"><path d="M420 350 430 370"/><path d="M529 426 553 453"/></g>
<g class="k"><path d="M425 157 403 217"/><path d="M403 217 466 177"/><path d="M475 237 519 288"/><path d="M445 254 519 288"/><path d="M419 263 519 288"/><path d="M466 280 519 288"/><path d="M536 164 558 178"/><path d="M558 178 621 223"/><path d="M558 178 593 218"/><path d="M593 218 621 223"/><path d="M565 211 621 223"/><path d="M395 338 420 350"/><path d="M430 370 482 366"/><path d="M420 350 430 370"/></g>
<g class="m"><path d="M454 226 475 237"/><path d="M575 150 565 211"/><path d="M536 164 621 223"/><path d="M558 178 565 211"/><path d="M585 171 621 223"/><path d="M589 194 621 223"/><path d="M544 208 565 211"/><path d="M558 178 589 194"/><path d="M575 150 558 178"/>
<path d="M605 335 568 293"/><path d="M605 335 580 328"/><path d="M605 335 570 369"/><path d="M605 335 601 372"/><path d="M605 335 628 375"/><path d="M601 372 588 394"/>
<path d="M523 452 564 431"/>
<path d="M404 319 395 338"/><path d="M404 319 437 331"/><path d="M404 319 420 350"/><path d="M390 361 430 370"/><path d="M437 331 430 370"/><path d="M455 347 430 370"/><path d="M430 370 449 388"/><path d="M430 370 413 380"/><path d="M413 380 415 402"/><path d="M430 370 415 402"/><path d="M430 370 436 402"/><path d="M449 388 436 402"/><path d="M455 347 449 388"/><path d="M482 366 449 388"/><path d="M413 380 436 402"/><path d="M420 350 413 380"/></g>
<g class="t"><path d="M425 157 466 177"/><path d="M471 152 568 293"/><path d="M454 226 445 254"/><path d="M475 237 445 254"/><path d="M445 254 419 263"/><path d="M475 237 466 280"/><path d="M519 288 482 366"/>
<path d="M552 143 575 150"/><path d="M575 150 536 164"/><path d="M552 143 558 178"/><path d="M585 171 599 151"/><path d="M608 179 621 223"/><path d="M589 194 625 196"/><path d="M585 171 625 196"/><path d="M544 208 558 178"/><path d="M625 196 621 223"/><path d="M599 151 589 194"/><path d="M589 194 608 179"/>
<path d="M395 338 390 361"/><path d="M390 361 415 402"/><path d="M471 392 436 402"/><path d="M482 366 471 392"/><path d="M390 361 413 380"/></g>
</g>
<g id="saturday-nodes">
<g id="sat-A1"><circle class="a" cx="454" cy="226" r="7.5"/></g><g id="sat-A2"><circle class="a" cx="475" cy="237" r="7.5"/></g><g id="sat-A3"><circle class="a" cx="445" cy="254" r="7.5"/></g><g id="sat-A4"><circle class="a" cx="419" cy="263" r="7.5"/></g><g id="sat-A5"><circle class="a" cx="466" cy="280" r="7.5"/></g><g id="sat-A6"><circle class="a" cx="512" cy="287" r="7.5"/></g><g id="sat-A7"><circle class="a" cx="519" cy="288" r="7.5"/></g>
<g id="sat-E1"><circle class="g" cx="425" cy="157" r="7.5"/></g><g id="sat-E2"><circle class="g" cx="466" cy="177" r="7.5"/></g><g id="sat-E3"><circle class="g" cx="402" cy="191" r="7.5"/></g><g id="sat-E4"><circle class="g" cx="403" cy="217" r="7.5"/></g><g id="sat-E5"><circle class="g" cx="552" cy="143" r="7.5"/></g><g id="sat-E6"><circle class="g" cx="575" cy="150" r="7.5"/></g><g id="sat-E7"><circle class="g" cx="599" cy="151" r="7.5"/></g><g id="sat-E8"><circle class="g" cx="536" cy="164" r="7.5"/></g><g id="sat-E9"><circle class="g" cx="558" cy="178" r="7.5"/></g><g id="sat-E10"><circle class="g" cx="608" cy="179" r="7.5"/></g><g id="sat-E11"><circle class="g" cx="625" cy="196" r="7.5"/></g><g id="sat-E12"><circle class="g" cx="565" cy="211" r="7.5"/></g><g id="sat-E13"><circle class="g" cx="593" cy="218" r="7.5"/></g>
<g id="sat-X1"><circle class="x" cx="621" cy="223" r="7.5"/></g><g id="sat-X2"><circle class="x" cx="641" cy="321" r="7.5"/></g><g id="sat-X3"><circle class="x" cx="628" cy="375" r="7.5"/></g><g id="sat-X4"><circle class="x" cx="523" cy="452" r="7.5"/></g><g id="sat-X5"><circle class="x" cx="404" cy="319" r="7.5"/></g>
<g id="sat-F1"><circle class="f" cx="471" cy="152" r="7.5"/></g><g id="sat-F2"><circle class="f" cx="568" cy="293" r="7.5"/></g><g id="sat-F3"><circle class="f" cx="640" cy="285" r="7.5"/></g><g id="sat-F4"><circle class="f" cx="610" cy="305" r="7.5"/></g><g id="sat-F5"><circle class="f" cx="580" cy="328" r="7.5"/></g><g id="sat-F6"><circle class="f" cx="605" cy="335" r="7.5"/></g><g id="sat-F7"><circle class="f" cx="640" cy="351" r="7.5"/></g><g id="sat-F8"><circle class="f" cx="570" cy="369" r="7.5"/></g><g id="sat-F9"><circle class="f" cx="601" cy="372" r="7.5"/></g><g id="sat-F10"><circle class="f" cx="588" cy="394" r="7.5"/></g><g id="sat-F11"><circle class="f" cx="395" cy="338" r="7.5"/></g><g id="sat-F12"><circle class="f" cx="455" cy="347" r="7.5"/></g><g id="sat-F13"><circle class="f" cx="449" cy="388" r="7.5"/></g>
<g id="sat-I1"><circle class="i" cx="390" cy="361" r="7.5"/></g><g id="sat-I2"><circle class="i" cx="430" cy="370" r="7.5"/></g><g id="sat-I3"><circle class="i" cx="482" cy="366" r="7.5"/></g><g id="sat-I4"><circle class="i" cx="413" cy="380" r="7.5"/></g><g id="sat-I5"><circle class="i" cx="471" cy="392" r="7.5"/></g>
<g id="sat-S1"><circle class="s" cx="424" cy="189" r="7.5"/></g><g id="sat-S2"><circle class="s" cx="585" cy="171" r="7.5"/></g><g id="sat-S3"><circle class="s" cx="589" cy="194" r="7.5"/></g><g id="sat-S4"><circle class="s" cx="544" cy="208" r="7.5"/></g><g id="sat-S5"><circle class="s" cx="529" cy="426" r="7.5"/></g><g id="sat-S6"><circle class="s" cx="564" cy="431" r="7.5"/></g><g id="sat-S7"><circle class="s" cx="553" cy="453" r="7.5"/></g><g id="sat-S8"><circle class="s" cx="437" cy="331" r="7.5"/></g><g id="sat-S9"><circle class="s" cx="420" cy="350" r="7.5"/></g><g id="sat-S10"><circle class="s" cx="415" cy="402" r="7.5"/></g><g id="sat-S11"><circle class="s" cx="436" cy="402" r="7.5"/></g>
</g>
</g>

<!-- LEGEND -->
<g id="legend-weight">
<text class="lt" x="988" y="201" textLength="75" lengthAdjust="spacingAndGlyphs">Weight</text>
<rect class="key" x="992" y="240.4" width="37" height="1.2"/>
<rect class="key" x="992" y="283.5" width="37" height="7"/>
<rect class="key" x="992" y="326.5" width="37" height="13"/>
<rect class="key" x="992" y="369" width="37" height="20"/>
<rect class="key" x="992" y="412" width="37" height="26"/>
<text class="lg" x="1048" y="249" textLength="27" lengthAdjust="spacingAndGlyphs">2.5</text>
<text class="lg" x="1048" y="295" textLength="27" lengthAdjust="spacingAndGlyphs">5.0</text>
<text class="lg" x="1048" y="341" textLength="27" lengthAdjust="spacingAndGlyphs">7.5</text>
<text class="lg" x="1048" y="387" textLength="38" lengthAdjust="spacingAndGlyphs">10.0</text>
<text class="lg" x="1048" y="433" textLength="38" lengthAdjust="spacingAndGlyphs">12.5</text>
</g>
<g id="legend-department">
<text class="lt" x="988" y="530" textLength="125" lengthAdjust="spacingAndGlyphs">Department</text>
<circle class="a" cx="1011" cy="572" r="7.5"/><circle class="g" cx="1011" cy="618" r="7.5"/><circle class="x" cx="1011" cy="664" r="7.5"/><circle class="f" cx="1011" cy="710" r="7.5"/><circle class="i" cx="1011" cy="756" r="7.5"/><circle class="s" cx="1011" cy="802" r="7.5"/>
<text class="lg" x="1048" y="580" textLength="122" lengthAdjust="spacingAndGlyphs">Administration</text>
<text class="lg" x="1048" y="626" textLength="103" lengthAdjust="spacingAndGlyphs">Engineering</text>
<text class="lg" x="1048" y="672" textLength="84" lengthAdjust="spacingAndGlyphs">Executive</text>
<text class="lg" x="1048" y="718" textLength="75" lengthAdjust="spacingAndGlyphs">Facilities</text>
<text class="lg" x="1048" y="764" textLength="202" lengthAdjust="spacingAndGlyphs">Information Technology</text>
<text class="lg" x="1048" y="810" textLength="69" lengthAdjust="spacingAndGlyphs">Security</text>
</g>
</svg>
